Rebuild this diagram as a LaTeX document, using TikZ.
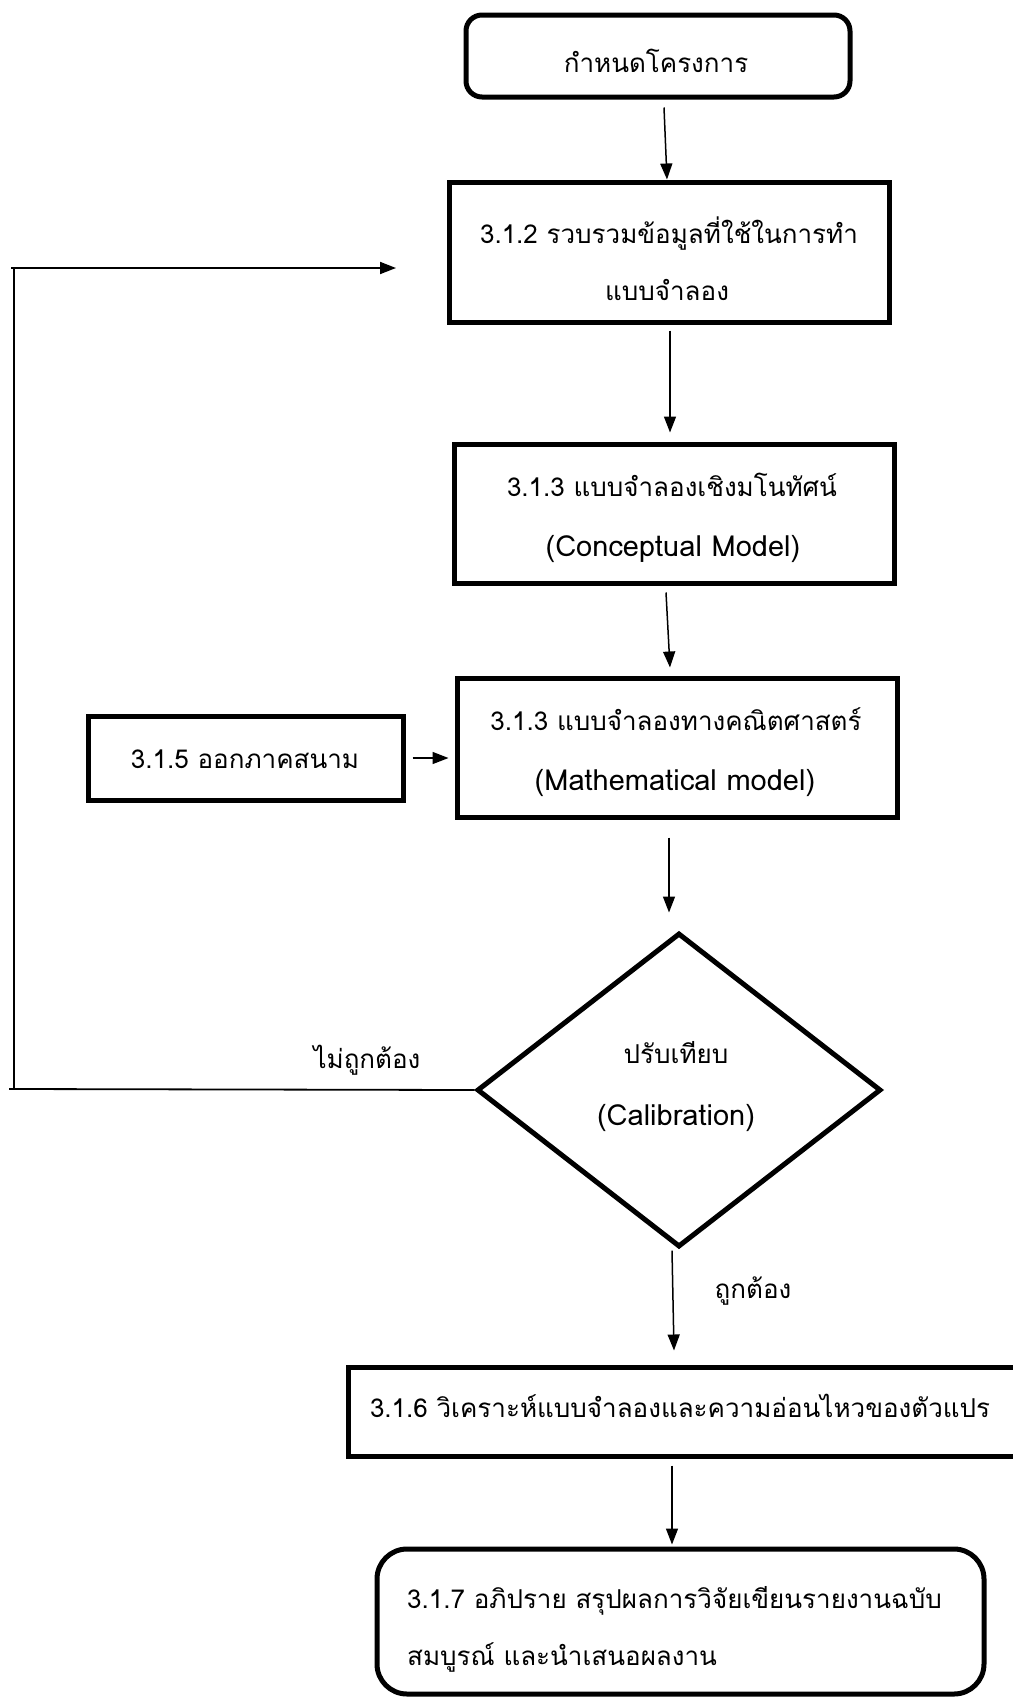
\documentclass[tikz,border=0pt]{standalone}
\usepackage{fontspec}
\setmainfont[Script=Thai]{Loma}
\usetikzlibrary{arrows.meta,shapes.geometric}
\begin{document}
\begin{tikzpicture}[x=1pt,y=-1pt,
  box/.style={draw,line width=5pt,rectangle,inner sep=0pt,minimum width=#1},
  rbox/.style={draw,line width=5pt,rectangle,rounded corners=#1,inner sep=0pt},
  txt/.style={inner sep=0pt,anchor=base,font=\fontsize{26}{30}\selectfont},
  lat/.style={inner sep=0pt,anchor=base,font=\fontsize{29}{33}\selectfont},
  ltxt/.style={inner sep=0pt,anchor=base west,font=\fontsize{26}{30}\selectfont},
  arr/.style={line width=1.5pt,-{Triangle[length=16pt,width=12pt]}},
  fb/.style={line width=1.8pt}]
\useasboundingbox (0,0) rectangle (1012,1697);
% boxes
\node[rbox=16pt,minimum width=384pt,minimum height=82pt] (b1) at (658,56) {};
\node[box=440pt,minimum height=140pt] (b2) at (669,252) {};
\node[box=440pt,minimum height=139pt] (b3) at (674,513.5) {};
\node[box=440pt,minimum height=139pt] (b4) at (677,747.5) {};
\node[box=315pt,minimum height=84pt] (b5) at (245.5,758) {};
\node[draw,diamond,line width=5pt,inner sep=0pt,minimum width=404pt,minimum height=314pt] (dia) at (679,1090) {};
\node[box=692pt,minimum height=89pt] (b6) at (694,1411.5) {};
\node[rbox=30pt,minimum width=607pt,minimum height=145pt] (b7) at (680.5,1621.5) {};
% texts
\node[txt] (t1) at (656,72) {กำหนดโครงการ};
\node[txt] (t2a) at (669,243) {3.1.2 รวบรวมข้อมูลที่ใช้ในการทำ};
\node[txt] (t2b) at (667,300) {แบบจำลอง};
\node[txt] (t3a) at (672,496) {3.1.3 แบบจำลองเชิงมโนทัศน์};
\node[lat] (t3b) at (673,556) {(Conceptual Model)};
\node[txt] (t4a) at (676,730) {3.1.3 แบบจำลองทางคณิตศาสตร์};
\node[lat] (t4b) at (675,790) {(Mathematical model)};
\node[txt] (t5) at (245,768) {3.1.5 ออกภาคสนาม};
\node[txt] (td1) at (676,1063) {ปรับเทียบ};
\node[lat] (td2) at (676,1125) {(Calibration)};
\node[txt] (t6) at (680,1417) {3.1.6 วิเคราะห์แบบจำลองและความอ่อนไหวของตัวแปร};
\node[ltxt] (t7a) at (407,1608) {3.1.7 อภิปราย สรุปผลการวิจัยเขียนรายงานฉบับ};
\node[ltxt] (t7b) at (407,1665) {สมบูรณ์ และนำเสนอผลงาน};
\node[txt] (lno) at (367,1068) {ไม่ถูกต้อง};
\node[txt] (lyes) at (753,1298) {ถูกต้อง};
% connectors
\draw[arr] ([shift={(6,8)}]b1.south) -- ([shift={(-2,0)}]b2.north);
\draw[arr] ([shift={(1,6)}]b2.south) -- ([shift={(-4,-9)}]b3.north);
\draw[arr] ([shift={(-8,7)}]b3.south) -- ([shift={(-7,-8)}]b4.north);
\draw[arr] ([shift={(-8,18)}]b4.south) -- ([shift={(-10,-18)}]dia.north);
\draw[arr] ([shift={(-7,1)}]dia.south) -- ([shift={(-20,-14)}]b6.north);
\draw[arr] ([shift={(-22,7)}]b6.south) -- ([shift={(-8.5,-2)}]b7.north);
\draw[arr] ([shift={(7,0)}]b5.east) -- ([shift={(-6,10.5)}]b4.west);
% feedback loop
\coordinate (fb1) at (14,1089);
\coordinate (fb2) at (14,268);
\coordinate (fbend) at (396,268);
\draw[fb] (dia.west) -- (fb1) -- (fb2);
\draw[fb] (fb1) -- ++(-5,0);
\draw[arr,line width=1.8pt] ([xshift=-3pt]fb2) -- (fbend);
\end{tikzpicture}
\end{document}
